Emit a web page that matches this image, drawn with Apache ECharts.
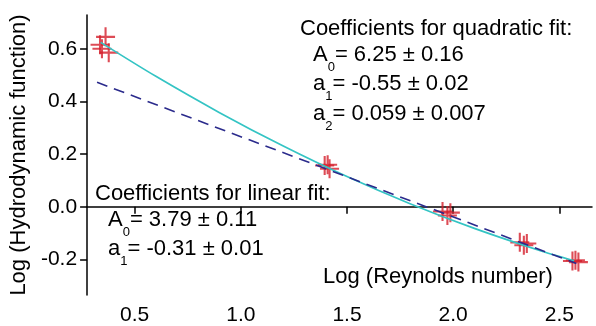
<!DOCTYPE html>
<html>
<head>
<meta charset="utf-8">
<script src="https://cdn.jsdelivr.net/npm/echarts@6/dist/echarts.min.js"></script>
<style>
  html, body { margin: 0; padding: 0; background: #fff; }
  #chart { width: 596px; height: 326px; }
</style>
</head>
<body>
<div id="chart"></div>
<script>
// measured points (red crosses)
const pointX = [0.337, 0.363, 0.378, 0.346, 1.395, 1.418, 1.409, 1.950, 1.973, 1.987, 2.314, 2.333, 2.347, 2.562, 2.576, 2.590];
const pointY = [0.616, 0.646, 0.586, 0.601, 0.157, 0.145, 0.160, -0.018, -0.033, -0.022, -0.135, -0.146, -0.139, -0.206, -0.203, -0.210];
// quadratic fit curve
const quadX = [0.34, 0.6, 0.9, 1.2, 1.5, 1.8, 2.1, 2.4, 2.57];
const quadY = [0.625, 0.496, 0.358, 0.231, 0.115, 0.011, -0.082, -0.164, -0.205];
// linear fit (dashed)
const linX = [0.323, 2.58];
const linY = [0.473, -0.215];
const xTicks = [0.5, 1.0, 1.5, 2.0, 2.5];
const yTicks = [-0.2, 0.0, 0.2, 0.4, 0.6];

const FONT = "'Liberation Sans', Arial, sans-serif";
const crossPath = "path://M-1.1,-10 L1.1,-10 L1.1,10 L-1.1,10 Z M-10,-1.1 L10,-1.1 L10,1.1 L-10,1.1 Z";

const zip = (xs, ys) => xs.map((x, i) => [x, ys[i]]);

// rich text for coefficient lines with subscripts
const rich = {
  m: { fontSize: 22, fontFamily: FONT, fill: "#000", verticalAlign: "top" },
  s: { fontSize: 13, fontFamily: FONT, fill: "#000", verticalAlign: "bottom", lineHeight: 30 }
};
function textEl(left, top, text) {
  return { type: "text", left: left, top: top, z: 10,
    style: { text: text, fontSize: 22, fontFamily: FONT, fill: "#000", rich: rich } };
}

const chart = echarts.init(document.getElementById("chart"));
const option = {
  animation: false,
  backgroundColor: "#fff",
  grid: { left: 82, right: 4, top: 15, bottom: 29 },
  xAxis: {
    type: "value",
    min: 0.276,
    max: 2.654,
    splitLine: { show: false },
    axisLine: { lineStyle: { color: "#000", width: 1.5 } },
    axisTick: { customValues: xTicks, length: 7, lineStyle: { color: "#000", width: 1.5 } },
    axisLabel: {
      customValues: xTicks, margin: 10, color: "#000", fontSize: 21, fontFamily: FONT,
      formatter: (v) => v.toFixed(1)
    }
  },
  yAxis: {
    type: "value",
    min: -0.335,
    max: 0.729,
    name: "Log (Hydrodynamic function)",
    nameLocation: "middle",
    nameGap: 45,
    nameTextStyle: { color: "#000", fontSize: 22, fontFamily: FONT },
    splitLine: { show: false },
    axisLine: { show: true, lineStyle: { color: "#000", width: 1.5 } },
    axisTick: { show: true, customValues: yTicks, length: 7, lineStyle: { color: "#000", width: 1.5 } },
    axisLabel: {
      customValues: yTicks, margin: 10, color: "#000", fontSize: 21, fontFamily: FONT,
      formatter: (v) => v.toFixed(1)
    }
  },
  series: [
    {
      type: "scatter",
      symbol: crossPath,
      symbolSize: 19,
      itemStyle: { color: "#d41f2c" },
      data: zip(pointX, pointY)
    },
    {
      type: "line",
      showSymbol: false,
      smooth: 0.3,
      lineStyle: { color: "#34c4c4", width: 1.7 },
      data: zip(quadX, quadY)
    },
    {
      type: "line",
      showSymbol: false,
      lineStyle: { color: "#2b2b8c", width: 1.6, type: [11, 7] },
      data: zip(linX, linY)
    }
  ],
  graphic: [
    textEl(300, 18, "Coefficients for quadratic fit:"),
    textEl(313, 44, "{m|A}{s|0}{m|= 6.25 ± 0.16}"),
    textEl(313, 73, "{m|a}{s|1}{m|= -0.55 ± 0.02}"),
    textEl(313, 103, "{m|a}{s|2}{m|= 0.059 ± 0.007}"),
    textEl(95, 183, "Coefficients for linear fit:"),
    textEl(108, 209, "{m|A}{s|0}{m|= 3.79 ± 0.11}"),
    textEl(108, 238, "{m|a}{s|1}{m|= -0.31 ± 0.01}"),
    textEl(323, 266, "Log (Reynolds number)")
  ]
};
chart.setOption(option);
</script>
</body>
</html>
